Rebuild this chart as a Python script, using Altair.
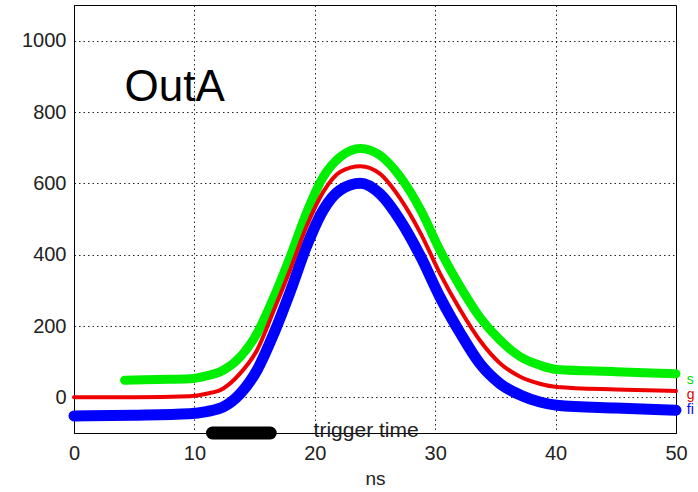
import altair as alt
import pandas as pd

# time axis samples (ns)
green_x = [4.2, 7.0, 9.6, 11.0, 12.4, 13.8, 15.2, 16.6, 18.0, 19.3, 20.7, 22.1, 23.8, 25.4, 27.1, 28.8, 30.4, 32.1, 33.7, 35.4, 37.1, 38.7, 40.1, 45.0, 50.0]
green_y = [48, 50, 52, 60, 76, 113, 179, 281, 398, 516, 618, 674, 698, 679, 618, 525, 412, 309, 225, 160, 113, 90, 78, 72, 66]

rb_x = [0.0, 5.0, 9.6, 11.0, 12.4, 13.8, 15.2, 16.6, 18.0, 19.3, 20.7, 22.1, 23.8, 25.4, 27.1, 28.8, 30.4, 32.1, 33.7, 35.4, 37.1, 38.7, 40.1, 45.0, 50.0]
red_y = [0, 0, 3, 10, 25, 67, 132, 244, 362, 478, 576, 632, 648, 627, 557, 459, 347, 244, 160, 95, 57, 38, 29, 22, 18]
blue_y = [-52, -50, -46, -40, -27, 10, 76, 179, 300, 422, 525, 581, 600, 571, 496, 394, 281, 179, 95, 38, 6, -13, -22, -30, -36]

trigger_x = [11.5, 16.3]
trigger_y = [-100, -100]

side_labels = ["s", "g", "fi"]
side_colors = ["#00e000", "#e00000", "#0000ff"]
side_x = [50.9, 50.9, 50.9]
side_y = [38, -6, -47]

x_ticks = [0, 10, 20, 30, 40, 50]
y_ticks = [0, 200, 400, 600, 800, 1000]

FONT = "Liberation Sans"

g_df = pd.DataFrame({"t": green_x, "v": green_y})
r_df = pd.DataFrame({"t": rb_x, "v": red_y})
b_df = pd.DataFrame({"t": rb_x, "v": blue_y})
trig_df = pd.DataFrame({"t": trigger_x, "v": trigger_y})
side_df = pd.DataFrame({"t": side_x, "v": side_y, "lab": side_labels, "c": side_colors})

xscale = alt.Scale(domain=[0, 50], nice=False, zero=False)
yscale = alt.Scale(domain=[-100, 1100], nice=False, zero=False)

xenc = alt.X("t:Q", scale=xscale, title="ns",
             axis=alt.Axis(values=x_ticks, format="d", grid=True, ticks=False, tickSize=0,
                           labelPadding=10, labelFontSize=20, labelFont=FONT,
                           labelColor="#222222", titleFont=FONT, titleFontSize=19,
                           titleFontWeight="normal", titleColor="#222222", titlePadding=6,
                           domainColor="black", gridColor="black", gridDash=[1.5, 3],
                           gridOpacity=0.85, labelFlush=False))
yenc = alt.Y("v:Q", scale=yscale, title=None,
             axis=alt.Axis(values=y_ticks, format="d", grid=True, ticks=False, tickSize=0,
                           labelPadding=8, labelFontSize=20, labelFont=FONT,
                           labelColor="#222222", domainColor="black", gridColor="black",
                           gridDash=[1.5, 3], gridOpacity=0.85, labelFlush=False))

green = alt.Chart(g_df).mark_line(color="#00ee00", strokeWidth=9, strokeCap="round",
                                  interpolate="monotone").encode(x=xenc, y=yenc)
blue = alt.Chart(b_df).mark_line(color="#0000ff", strokeWidth=11, strokeCap="round",
                                 interpolate="monotone").encode(x="t:Q", y="v:Q")
red = alt.Chart(r_df).mark_line(color="#ee0000", strokeWidth=4, strokeCap="round",
                                interpolate="monotone").encode(x="t:Q", y="v:Q")

trig = alt.Chart(trig_df).mark_line(color="black", strokeWidth=13, strokeCap="round").encode(
    x="t:Q", y="v:Q")

trig_text = alt.Chart(pd.DataFrame({"t": [19.9], "v": [-112], "lab": ["trigger time"]})).mark_text(
    align="left", baseline="alphabetic", font=FONT, fontSize=21, color="#222222").encode(
    x="t:Q", y="v:Q", text="lab:N")

title_text = alt.Chart(pd.DataFrame({"t": [4.2], "v": [868], "lab": ["OutA"]})).mark_text(
    align="left", baseline="middle", font=FONT, fontSize=44, color="black").encode(
    x="t:Q", y="v:Q", text="lab:N")

side = alt.Chart(side_df).mark_text(align="left", baseline="alphabetic", font=FONT,
                                    fontSize=14).encode(
    x="t:Q", y="v:Q", text="lab:N", color=alt.Color("c:N", scale=None))

chart = alt.layer(green, blue, red, trig, trig_text, title_text, side).properties(
    width=602, height=428,
    autosize=alt.AutoSizeParams(type="none"),
    padding={"left": 74, "top": 5, "right": 22, "bottom": 59},
    background="white",
).configure_view(stroke="black", strokeWidth=1)

chart.save("out.html", embed_options={"renderer": "svg", "actions": False})
